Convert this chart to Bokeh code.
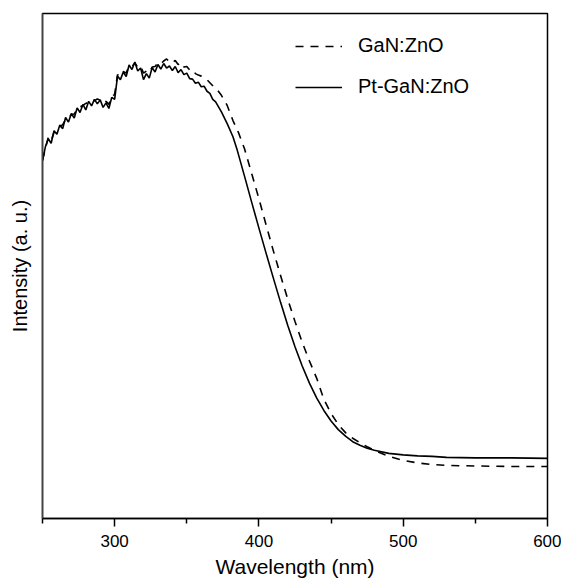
from bokeh.plotting import figure
from bokeh.models import Range1d, FixedTicker, Legend
from bokeh.embed import file_html
from bokeh.resources import INLINE

# ---- data ----
wl_pt = [250, 252, 254, 256, 258, 260, 262, 264, 266, 268, 270, 272, 274, 276, 278,
         280, 282, 284, 286, 288, 290, 292, 294, 296, 298, 300, 302, 304, 306, 308,
         310, 312, 314, 316, 318, 320, 322, 324, 326, 328, 330, 332, 334, 336, 338,
         340, 342, 344, 346, 348, 350, 352, 354, 356, 358, 360, 362, 364, 366, 368,
         370, 374, 378, 382, 385, 390, 395, 400, 405, 410, 415, 420, 425, 430, 435,
         440, 445, 450, 455, 460, 465, 470, 475, 480, 490, 500, 510, 520, 530, 550,
         575, 600]
int_pt = [70.8, 73.6, 75.2, 74.3, 76.8, 76.1, 77.9, 77.2, 79.4, 78.5, 80.2, 79.3, 81.3, 80.4, 82.0,
          80.9, 82.6, 81.7, 83.0, 82.1, 82.9, 81.4, 82.3, 81.2, 83.4, 83.0, 87.6, 86.9, 88.4, 87.5,
          89.8, 88.9, 90.4, 88.6, 89.2, 86.9, 88.1, 87.2, 89.3, 88.4, 89.9, 89.0, 90.1, 89.2, 89.6,
          88.7, 89.5, 88.3, 88.9, 87.9, 88.2, 87.1, 87.0, 86.2, 86.4, 85.5, 85.6, 84.6, 84.2, 83.0,
          82.5, 80.5, 78.2, 75.6, 72.9, 67.8, 62.6, 57.5, 52.5, 47.6, 42.8, 38.2, 34.0, 30.2, 26.8,
          23.9, 21.4, 19.3, 17.6, 16.3, 15.2, 14.5, 13.9, 13.5, 12.9, 12.6, 12.4, 12.3, 12.1, 12.0,
          12.0, 11.9]

wl_gan = [250, 252, 254, 256, 258, 260, 262, 264, 266, 268, 270, 272, 274, 276, 278,
          280, 282, 284, 286, 288, 290, 292, 294, 296, 298, 300, 302, 304, 306, 308,
          310, 312, 314, 316, 318, 320, 322, 324, 326, 328, 330, 332, 334, 336, 338,
          340, 342, 344, 346, 348, 350, 352, 354, 356, 358, 360, 362, 364, 366, 368,
          370, 374, 378, 382, 386, 390, 395, 400, 405, 410, 415, 420, 425, 430, 435,
          440, 445, 450, 455, 460, 465, 470, 475, 480, 490, 500, 510, 520, 530, 550,
          575, 600]
int_gan = [71.0, 73.2, 75.5, 74.8, 76.5, 76.9, 77.5, 78.0, 79.0, 79.2, 80.0, 80.1, 81.0, 81.5, 81.8,
           82.2, 82.4, 82.9, 82.7, 83.1, 82.8, 82.2, 82.6, 82.0, 83.5, 84.0, 87.9, 87.6, 88.5, 88.2,
           89.6, 89.5, 90.2, 89.4, 89.6, 88.2, 88.6, 88.3, 89.4, 89.5, 90.2, 90.0, 90.6, 91.0, 90.4,
           90.2, 90.7, 89.9, 90.3, 89.4, 89.5, 88.8, 88.9, 88.1, 87.8, 87.6, 87.2, 86.9, 86.3, 85.7,
           85.3, 83.8, 81.8, 78.8, 76.3, 73.2, 68.3, 63.3, 58.1, 53.0, 48.1, 43.4, 39.0, 34.9, 31.2,
           27.8, 23.6, 20.8, 18.6, 17.0, 15.9, 15.0, 14.2, 13.5, 12.3, 11.5, 11.0, 10.7, 10.5, 10.4,
           10.3, 10.3]

x_major_ticks = [300, 400, 500, 600]
x_minor_ticks = [250, 350, 450, 550]

FONT = "Liberation Sans"

p = figure(width=561, height=579, output_backend="svg", toolbar_location=None,
           x_range=Range1d(250, 600), y_range=Range1d(0, 100),
           min_border_left=42, min_border_right=14, min_border_top=13, min_border_bottom=61)
p.frame_width = 505
p.frame_height = 505
p.background_fill_color = "white"
p.border_fill_color = "white"
p.outline_line_color = "black"
p.outline_line_width = 1.5
p.grid.visible = False

r1 = p.line(wl_gan, int_gan, line_color="black", line_width=1.6, line_dash="8 7")
r2 = p.line(wl_pt, int_pt, line_color="black", line_width=1.6)

legend = Legend(items=[("GaN:ZnO", [r1]), ("Pt-GaN:ZnO", [r2])],
                location=(253, 420), orientation="vertical")
legend.border_line_color = None
legend.background_fill_alpha = 0
legend.padding = 0
legend.margin = 0
legend.spacing = 18
legend.glyph_width = 47
legend.glyph_height = 20
legend.label_height = 20
legend.label_standoff = 16
legend.label_text_font = FONT
legend.label_text_font_size = "20px"
legend.label_text_color = "black"
p.add_layout(legend, "center")

xa = p.xaxis[0]
xa.ticker = FixedTicker(ticks=x_major_ticks, minor_ticks=x_minor_ticks)
xa.axis_label = "Wavelength (nm)"
xa.axis_label_text_font = FONT
xa.axis_label_text_font_size = "21px"
xa.axis_label_text_font_style = "normal"
xa.axis_label_text_color = "black"
xa.axis_label_standoff = 5
xa.major_label_text_font = FONT
xa.major_label_text_font_size = "17px"
xa.major_label_text_color = "black"
xa.major_label_standoff = 8
xa.major_tick_out = 8
xa.major_tick_in = 0
xa.minor_tick_out = 5
xa.minor_tick_in = 0
xa.axis_line_width = 1.5
xa.axis_line_color = "black"
xa.major_tick_line_width = 1.5
xa.minor_tick_line_width = 1.5

ya = p.yaxis[0]
ya.ticker = FixedTicker(ticks=[])
ya.axis_label = "Intensity (a. u.)"
ya.axis_label_text_font = FONT
ya.axis_label_text_font_size = "20px"
ya.axis_label_text_font_style = "normal"
ya.axis_label_text_color = "black"
ya.axis_label_standoff = 12
ya.major_tick_out = 0
ya.major_tick_in = 0
ya.minor_tick_out = 0
ya.minor_tick_in = 0
ya.axis_line_width = 1.5
ya.axis_line_color = "#444444"

open("out.html", "w").write(file_html(p, INLINE))
